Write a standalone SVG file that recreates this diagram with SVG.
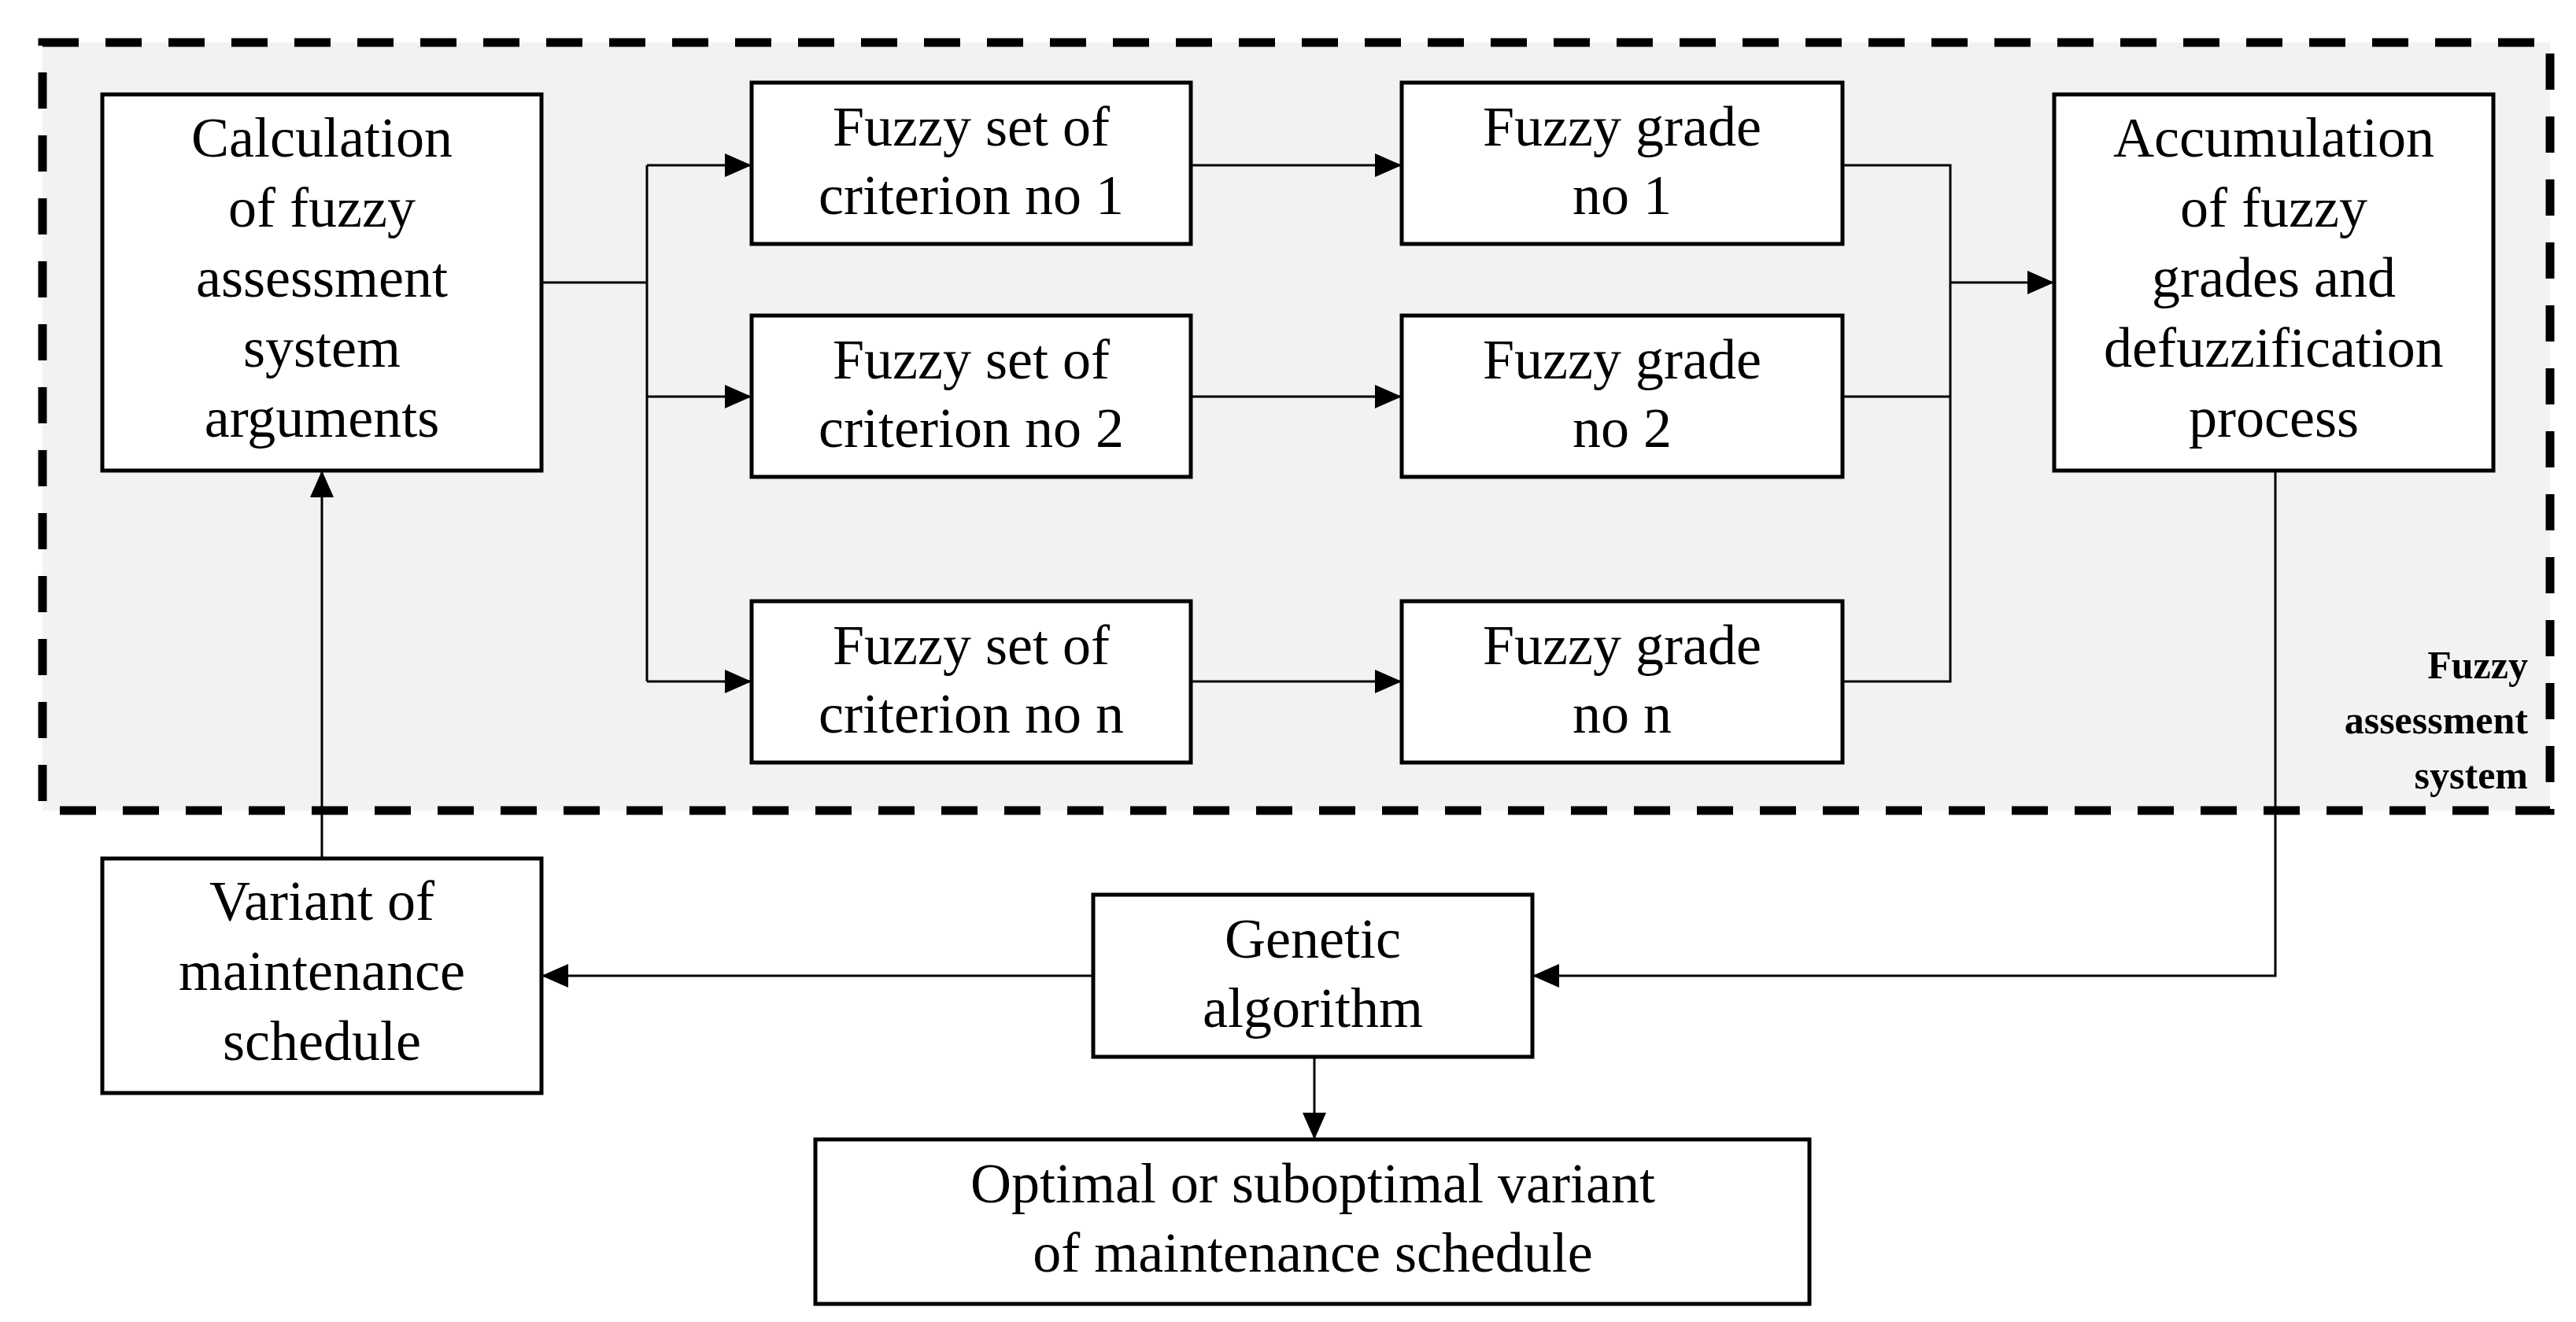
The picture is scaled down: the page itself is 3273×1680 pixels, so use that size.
<svg xmlns="http://www.w3.org/2000/svg" width="3273" height="1680" viewBox="0 0 3273 1680">
<style>
.b{fill:#fff;stroke:#000;stroke-width:5}
.t{font-family:"Liberation Serif",serif;font-size:72px;text-anchor:middle;fill:#000}
.c{fill:none;stroke:#000;stroke-width:3}
.l{font-family:"Liberation Serif",serif;font-size:50px;font-weight:bold;text-anchor:end}
</style>
<defs>
<marker id="m" viewBox="0 0 10 10" refX="10" refY="5" markerWidth="34" markerHeight="30" orient="auto" markerUnits="userSpaceOnUse" preserveAspectRatio="none"><path d="M0,0L10,5L0,10z"/></marker></defs>
<rect x="54" y="54" width="3186" height="976" fill="#f2f2f2" stroke="#000" stroke-width="11" stroke-dasharray="46 34"/>
<text class="l" x="3212" y="862">Fuzzy</text>
<text class="l" x="3212" y="932">assessment</text>
<text class="l" x="3212" y="1002">system</text>
<g id="connectors">
<path class="c" d="M688 359H822M822 210V866" />
<path class="c" marker-end="url(#m)" d="M822 210H955"/>
<path class="c" marker-end="url(#m)" d="M822 504H955"/>
<path class="c" marker-end="url(#m)" d="M822 866H955"/>
<path class="c" marker-end="url(#m)" d="M1513 210H1781"/>
<path class="c" marker-end="url(#m)" d="M1513 504H1781"/>
<path class="c" marker-end="url(#m)" d="M1513 866H1781"/>
<path class="c" d="M2341 210H2478V866H2341"/>
<path class="c" stroke="#777" d="M2341 504H2478"/>
<path class="c" marker-end="url(#m)" d="M2478 359H2610"/>
<path class="c" marker-end="url(#m)" d="M2891 598V1240H1947"/>
<path class="c" marker-end="url(#m)" d="M1389 1240H688"/>
<path class="c" marker-end="url(#m)" d="M1670 1343V1448"/>
<path class="c" marker-end="url(#m)" d="M409 1091V598"/>
</g>
<g id="calc"><rect class="b" x="130" y="120" width="558" height="478"/>
<text class="t" x="409" y="199">Calculation</text><text class="t" x="409" y="288">of fuzzy</text><text class="t" x="409" y="377">assessment</text><text class="t" x="409" y="466">system</text><text class="t" x="409" y="555">arguments</text></g>
<g id="set1"><rect class="b" x="955" y="105" width="558" height="205"/><text class="t" x="1234" y="185">Fuzzy set of</text><text class="t" x="1234" y="272">criterion no 1</text></g>
<g id="set2"><rect class="b" x="955" y="401" width="558" height="205"/><text class="t" x="1234" y="481">Fuzzy set of</text><text class="t" x="1234" y="568">criterion no 2</text></g>
<g id="setn"><rect class="b" x="955" y="764" width="558" height="205"/><text class="t" x="1234" y="844">Fuzzy set of</text><text class="t" x="1234" y="931">criterion no n</text></g>
<g id="grade1"><rect class="b" x="1781" y="105" width="560" height="205"/><text class="t" x="2061" y="185">Fuzzy grade</text><text class="t" x="2061" y="272">no 1</text></g>
<g id="grade2"><rect class="b" x="1781" y="401" width="560" height="205"/><text class="t" x="2061" y="481">Fuzzy grade</text><text class="t" x="2061" y="568">no 2</text></g>
<g id="graden"><rect class="b" x="1781" y="764" width="560" height="205"/><text class="t" x="2061" y="844">Fuzzy grade</text><text class="t" x="2061" y="931">no n</text></g>
<g id="accum"><rect class="b" x="2610" y="120" width="558" height="478"/>
<text class="t" x="2889" y="199">Accumulation</text><text class="t" x="2889" y="288">of fuzzy</text><text class="t" x="2889" y="377">grades and</text><text class="t" x="2889" y="466">defuzzification</text><text class="t" x="2889" y="555">process</text></g>
<g id="variant"><rect class="b" x="130" y="1091" width="558" height="298"/><text class="t" x="409" y="1169">Variant of</text><text class="t" x="409" y="1258">maintenance</text><text class="t" x="409" y="1347">schedule</text></g>
<g id="genetic"><rect class="b" x="1389" y="1137" width="558" height="206"/><text class="t" x="1668" y="1217">Genetic</text><text class="t" x="1668" y="1305">algorithm</text></g>
<g id="optimal"><rect class="b" x="1036" y="1448" width="1263" height="209"/><text class="t" x="1668" y="1528">Optimal or suboptimal variant</text><text class="t" x="1668" y="1616">of maintenance schedule</text></g>
</svg>
